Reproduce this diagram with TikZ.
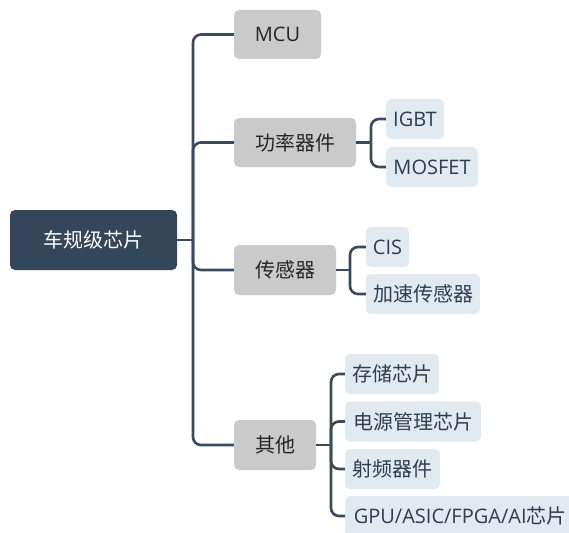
\documentclass[tikz,border=0pt]{standalone}
\usepackage{fontspec}
\setmainfont{Open Sans}
\newfontfamily\cjk{Noto Sans CJK SC}
\definecolor{rootfill}{HTML}{344659}
\definecolor{lonefill}{HTML}{CACACA}
\definecolor{ltwofill}{HTML}{E1E9F1}
\definecolor{linec}{HTML}{3A4A5E}
\definecolor{ltwotext}{HTML}{2F3E4F}
\tikzset{
  x=1pt, y=-1pt,
  box/.style={rounded corners=5pt, inner sep=0pt, font=\fontsize{20}{22}\selectfont},
  rootbox/.style={box, fill=rootfill, text=white, minimum width=167pt, minimum height=60pt},
  lonebox/.style={box, fill=lonefill, text=black!85, minimum height=49pt},
  ltwobox/.style={box, fill=ltwofill, text=ltwotext, minimum height=40pt},
  conn/.style={draw=linec, line width=2.6pt, rounded corners=8pt},
}
\begin{document}
\begin{tikzpicture}
\useasboundingbox (0,0) rectangle (569,532);
\clip (0,0) rectangle (569,532);
% nodes
\node[rootbox] (root) at (93.5,240) {\cjk 车规级芯片};
\node[lonebox, minimum width=87pt] (mcu) at (277.5,34.5) {MCU};
\node[lonebox, minimum width=122pt] (pow) at (295,142.5) {\cjk 功率器件};
\node[lonebox, minimum width=102pt, minimum height=50pt] (sen) at (285,270) {\cjk 传感器};
\node[lonebox, minimum width=82pt, minimum height=50pt] (oth) at (275,445) {\cjk 其他};
\node[ltwobox, minimum width=58pt] (igbt) at (415,119) {IGBT};
\node[ltwobox, minimum width=92pt] (mos) at (432,167) {MOSFET};
\node[ltwobox, minimum width=43pt] (cis) at (387.5,247) {CIS};
\node[ltwobox, minimum width=114pt] (acc) at (423,294) {\cjk 加速传感器};
\node[ltwobox, minimum width=94pt] (mem) at (392,374) {\cjk 存储芯片};
\node[ltwobox, minimum width=136pt] (pwr) at (413,421.5) {\cjk 电源管理芯片};
\node[ltwobox, minimum width=95pt] (rf) at (392.5,469) {\cjk 射频器件};
\node[ltwobox, minimum width=230pt, anchor=west] (gpu) at (345,516) {GPU/ASIC/FPGA/AI{\cjk 芯片}};
% junctions
\coordinate (j0) at (193,240);
\coordinate (j1) at (371,142.5);
\coordinate (j2) at (350,270);
\coordinate (j3) at (331,445);
% connectors
\draw[conn, rounded corners=0pt] (root.east) -- (j0);
\foreach \c in {mcu,pow,sen,oth} \draw[conn] (j0) |- (\c.west);
\draw[conn, rounded corners=0pt] (pow.east) -- (j1);
\foreach \c in {igbt,mos} \draw[conn] (j1) |- (\c.west);
\draw[conn, rounded corners=0pt] (sen.east) -- (j2);
\foreach \c in {cis,acc} \draw[conn] (j2) |- (\c.west);
\draw[conn, rounded corners=0pt] (oth.east) -- (j3);
\foreach \c in {mem,pwr,rf,gpu} \draw[conn] (j3) |- (\c.west);
\end{tikzpicture}
\end{document}
